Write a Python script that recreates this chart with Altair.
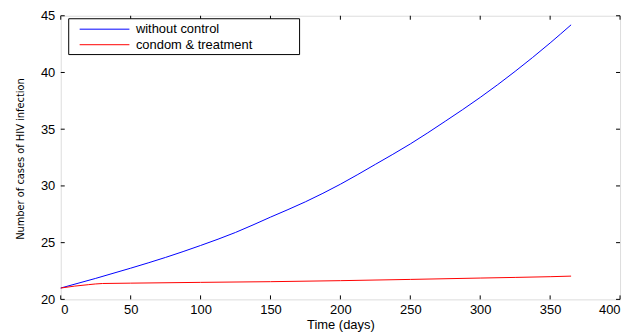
import altair as alt
import pandas as pd

# ---- data ----
days_blue = [0, 25, 50, 75, 100, 125, 150, 175, 200, 225, 250, 275, 300, 325, 350, 365]
without_control = [21.0, 21.85, 22.75, 23.7, 24.75, 25.9, 27.25, 28.6, 30.15, 31.9,
                   33.7, 35.7, 37.8, 40.1, 42.6, 44.2]
days_red = [0, 10, 20, 30, 50, 100, 150, 200, 250, 300, 350, 365]
condom_treatment = [21.0, 21.17, 21.3, 21.4, 21.43, 21.5, 21.56, 21.65, 21.76, 21.88, 22.0, 22.05]
series_names = ["without control", "condom & treatment"]
series_colors = ["#0000FF", "#FF0000"]
x_ticks = [0, 50, 100, 150, 200, 250, 300, 350, 400]
y_ticks = [20, 25, 30, 35, 40, 45]

W, H = 562, 285
FONT = "Liberation Sans"

df = pd.concat([
    pd.DataFrame({"day": days_blue, "cases": without_control, "series": series_names[0]}),
    pd.DataFrame({"day": days_red, "cases": condom_treatment, "series": series_names[1]}),
])

xs = alt.Scale(domain=[0, 400], nice=False, zero=False)
ys = alt.Scale(domain=[20, 45], nice=False, zero=False)
x_axis = alt.Axis(values=x_ticks, tickSize=0, domain=False, grid=False,
                  labelPadding=4, labelFontSize=13, labelFont=FONT, labelColor="black",
                  titleFont=FONT, titleFontSize=13, titleFontWeight="normal",
                  titleColor="black", titleBaseline="alphabetic", titleY=29)
y_axis = alt.Axis(values=y_ticks, tickSize=0, domain=False, grid=False,
                  labelPadding=6, labelFontSize=13, labelFont=FONT, labelColor="black",
                  titleFont="DejaVu Sans Condensed, Liberation Sans", titleFontSize=11,
                  titleFontWeight="normal", titleColor="black",
                  titleBaseline="alphabetic", titleX=-37, titleY=H / 2 + 1)
XT = "Time (days)"
YT = "Number of cases of HIV infection"

lines = alt.Chart(df).mark_line(strokeWidth=1, interpolate="monotone").encode(
    x=alt.X("day:Q", scale=xs, title=XT, axis=x_axis),
    y=alt.Y("cases:Q", scale=ys, title=YT, axis=y_axis),
    color=alt.Color("series:N", sort=series_names,
                    scale=alt.Scale(domain=series_names, range=series_colors),
                    legend=None),
)

xt = pd.DataFrame({"day": x_ticks})
yt = pd.DataFrame({"cases": y_ticks})
rule = dict(color="black", strokeWidth=1)
bottom_ticks = alt.Chart(xt).mark_rule(**rule).encode(
    x=alt.X("day:Q", scale=xs, title=XT, axis=x_axis), y=alt.value(H), y2=alt.value(H - 4))
top_ticks = alt.Chart(xt).mark_rule(**rule).encode(
    x=alt.X("day:Q", scale=xs, title=XT, axis=x_axis), y=alt.value(0), y2=alt.value(4))
left_ticks = alt.Chart(yt).mark_rule(**rule).encode(
    y=alt.Y("cases:Q", scale=ys, title=YT, axis=y_axis), x=alt.value(0), x2=alt.value(4))
right_ticks = alt.Chart(yt).mark_rule(**rule).encode(
    y=alt.Y("cases:Q", scale=ys, title=YT, axis=y_axis), x=alt.value(W - 4), x2=alt.value(W))

# ---- MATLAB-style legend box ----
one = pd.DataFrame({"k": [0]})
legend_box = alt.Chart(one).mark_rect(fill="white", stroke="black", strokeWidth=1).encode(
    x=alt.value(8), x2=alt.value(240), y=alt.value(3), y2=alt.value(39))
legend_layers = [legend_box]
for i, (name, col) in enumerate(zip(series_names, series_colors)):
    yy = 13.5 + i * 15.6
    legend_layers.append(alt.Chart(one).mark_rule(color=col, strokeWidth=1).encode(
        x=alt.value(19), x2=alt.value(69), y=alt.value(yy)))
    legend_layers.append(alt.Chart(one).mark_text(
        align="left", baseline="middle", font=FONT, fontSize=13, color="black").encode(
        x=alt.value(75.5), y=alt.value(yy), text=alt.value(name)))

chart = alt.layer(lines, bottom_ticks, top_ticks, left_ticks, right_ticks,
                  *legend_layers).properties(
    width=W, height=H,
    autosize=alt.AutoSizeParams(type="none"),
    padding={"left": 53, "top": 7, "right": 8, "bottom": 34},
).configure_view(stroke="black", strokeWidth=1).configure(background="white")

chart.save("out.html", embed_options={"renderer": "svg", "actions": False})
